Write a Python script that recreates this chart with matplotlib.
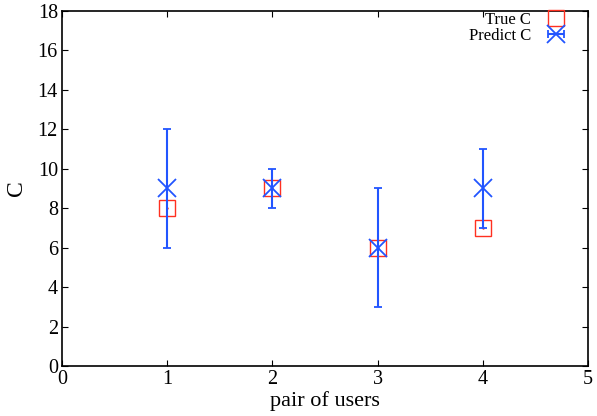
import matplotlib
matplotlib.use('Agg')
import matplotlib.pyplot as plt
import numpy as np

# pairs of users
pairs = [1, 2, 3, 4]
true_c = [8, 9, 6, 7]
pred_c = [9, 9, 6, 9]
pred_err = [3, 1, 3, 2]

plt.rcParams['font.family'] = ['Liberation Serif', 'DejaVu Serif']

fig = plt.figure(figsize=(5.97, 4.16), dpi=100)
ax = fig.add_axes([0.104, 0.12, 0.881, 0.854])

red = '#ff3020'
blue = '#2255ff'

ax.plot(pairs, true_c, ls='none', marker='s', ms=11, mfc='none', mec=red,
        mew=1.0, label='True C')
ax.plot(pairs, true_c, ls='none', marker='.', ms=1.5, color=red)
ax.errorbar(pairs, pred_c, yerr=pred_err, ls='none', marker='x', ms=13, mew=1.3,
            color=blue, ecolor=blue, elinewidth=1.5, capsize=3, capthick=1.5)
# legend proxy, gnuplot draws the bar sideways in the key
ax.errorbar([np.nan], [np.nan], xerr=[1], ls='none', marker='x', ms=13, mew=1.3,
            color=blue, ecolor=blue, elinewidth=1.5, capsize=3, capthick=1.5,
            label='Predict C')

ax.set_xlim(0, 5)
ax.set_ylim(0, 18)
ax.set_xticks(range(0, 6))
ax.set_yticks(range(0, 19, 2))
ax.tick_params(direction='in', top=True, right=True, labelsize=14.5, length=4,
               pad=3)
ax.set_xlabel('pair of users', fontsize=16, labelpad=1)
ax.set_ylabel('C', fontsize=17, labelpad=8)
for s in ax.spines.values():
    s.set_linewidth(1.2)

ax.legend(loc='upper right', bbox_to_anchor=(0.977, 0.998), frameon=False,
          markerfirst=False, fontsize=12, handlelength=2.4, handletextpad=0.3,
          labelspacing=0.0, borderaxespad=0, borderpad=0)

fig.savefig('out.png', dpi=100)
